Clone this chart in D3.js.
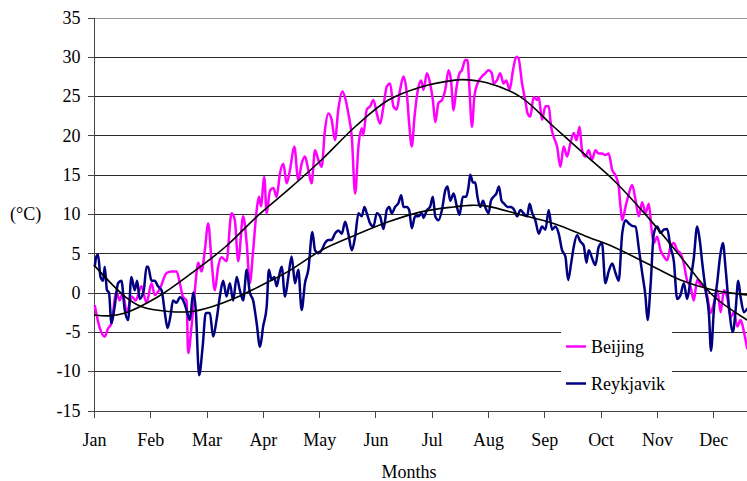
<!DOCTYPE html>
<html>
<head>
<meta charset="utf-8">
<script src="https://cdn.jsdelivr.net/npm/d3@7"></script>
<style>
  html, body { margin: 0; padding: 0; background: #fff; }
  svg { display: block; }
  svg text { font-family: 'Liberation Serif', 'Times New Roman', serif !important; font-size: 18px; fill: #000; }
</style>
</head>
<body>
<svg id="chart" width="747" height="481"></svg>
<script>
// ---- data ----
const months = ["Jan","Feb","Mar","Apr","May","Jun","Jul","Aug","Sep","Oct","Nov","Dec"];
const yTicks = [-15,-10,-5,0,5,10,15,20,25,30,35];
const seriesNames = ["Beijing", "Reykjavik"];

// [day of year, temperature °C]
const beijing = [
[0.4,-1.6],[3.1,-4.5],[5.8,-5.6],[7.5,-4.6],[9.4,-3.9],[12.1,0],[13.9,-1],[15.5,0],[17.7,-2.5],[20.4,-0.5],
[22.5,-1],[25.6,0.8],[28.4,-1.3],[31.1,1.2],[32.8,-0.3],[35.6,0.5],[39.2,2.5],[41.9,2.7],[44.6,2.7],[46.4,1.2],
[48,-0.5],[50,-1],[50.9,-7.7],[52.7,-4.3],[54.5,0.3],[56.3,3.8],[58.1,2.7],[59.9,5.4],[61.7,8.8],[63.5,4.1],
[65.3,0.3],[67.1,3.3],[68.9,4.5],[71.6,4],[74.3,10.1],[76.1,9.2],[77.9,4],[80.6,9.7],[82.5,6.3],[84.2,1.2],
[86,5.4],[87.9,10.5],[89.1,12.2],[90.2,11],[92,14.7],[93.3,10.1],[95.1,13],[96.9,13.3],[98.7,12.2],[100.5,15.2],
[102.3,16.4],[104.1,13.9],[105.9,15.6],[108.2,18.6],[110.4,14.3],[112.2,16.4],[114,17.3],[115.8,15.6],[117.6,13.9],[119.4,18.1],
[121.2,16.9],[123,16],[124.8,20.7],[126.6,22.8],[128.4,22],[130.2,19.4],[132,23.3],[134.2,25.6],[136,24.5],[137.4,22.8],
[139.3,19.8],[141.1,12.6],[142.9,18.6],[144.7,20.9],[145.4,20],[147.4,23.3],[149.2,23.7],[151,24.5],[152.8,22.8],[154.6,21.5],
[156.4,23.7],[158.2,26.2],[160,26.6],[161.8,23.7],[163.6,23.3],[165.4,25.8],[167.2,27.5],[169,25.4],[170.3,21.5],[171.7,18.6],
[173.2,22.4],[175,25.8],[176.8,27],[178,25.8],[179.9,27.9],[181.6,26.6],[183.1,24.5],[184.4,21.7],[186.1,24.1],[188,24.5],
[189.8,25.8],[191.6,28.3],[192.9,27],[194.3,23.2],[195.7,25.8],[197.5,27.9],[198.8,28.3],[200.6,29.6],[201.8,29.6],[202.9,25.8],
[204.2,21.1],[205.5,24.9],[207.2,26.6],[209.6,27.5],[211.4,27.9],[213.2,28.3],[215,27.9],[215.9,26.6],[217.7,27],[219.5,27.9],
[221.3,26.6],[222.8,27],[224.6,25.8],[226.4,28.3],[228.2,30],[229.4,29.8],[231.3,26.6],[233,24.5],[234.3,22.8],[235.8,22.4],
[237.5,24.9],[239.4,24.5],[240.3,24.9],[242.1,22],[243.9,23.7],[245.7,23.7],[247,21.1],[248.4,19.8],[250.2,18.6],[252,16],
[253.8,18.6],[255.6,17.3],[257.4,19],[259.2,20.3],[260.7,19.4],[262.4,21.1],[263.7,18.1],[265.5,17.3],[267.3,18.1],[269.1,16.9],
[270.9,18.1],[272.7,17.7],[274.5,17.7],[276.3,17.5],[278.1,17.7],[280,15.6],[281.8,14.9],[283.5,13.5],[284.5,10.9],[285.4,9.2],
[287.2,10.9],[289,12.6],[290.8,13.7],[292.6,11.8],[294.4,9.7],[296.2,11.5],[298,10.1],[299.8,11.3],[301.1,8.4],[302.5,6.3],
[304.3,7.1],[306.1,5.4],[307.9,4.6],[309.7,4.1],[311.5,5.8],[313.3,6.3],[315.1,5.4],[316.9,5],[318.7,3.7],[320.5,1.5],
[322.3,0.8],[324.1,-1],[325.9,1.6],[327.7,1],[329.5,0.8],[331.4,-0.5],[333.2,-2.6],[335,-1.3],[336.8,0.3],[338.6,-2.5],
[340.4,0.3],[342.2,-0.7],[344,-3.1],[345.8,-2.5],[347.6,-4.3],[349.4,-3.5],[351.2,-5],[353,-7.2]
];

const reykjavik = [
[0.4,3.3],[1.3,4.6],[2.2,4.8],[3.5,2],[4.9,1.5],[5.8,3.3],[7,0.3],[8.1,0],[9.4,-3.9],[11.2,-1.7],
[13,1.2],[14.8,1.5],[16.6,-2.2],[18.4,-3.5],[20.2,2],[22,0.3],[23.3,1.5],[24.7,-0.8],[26.9,0.3],[28.4,3.3],
[29.2,3.3],[31.1,1.5],[32.8,1.5],[34.6,0.8],[36.5,0.3],[38.3,-2.6],[39.7,-4.5],[41.3,-3],[42.7,-1],[44.6,-1.3],
[46.4,-0.6],[48.2,-1],[50,-2.2],[51.8,-3.5],[53.6,0],[55,-2.2],[56.8,-10.5],[58.7,-6.9],[60.4,-2.6],[62.6,-2.6],
[64.4,-5.6],[66.2,-3.5],[68,-0.5],[69.8,1.5],[71.6,-0.5],[73.4,1.2],[75.2,-1],[77.1,2],[78.8,0.3],[80.6,-1],
[82.5,2.9],[84.2,0],[86,-1],[87.9,-3.9],[89.7,-6.9],[91.4,-4.3],[93.3,-1.8],[94.5,2.9],[96,1.6],[97.4,2],
[98.7,0.8],[99.9,2],[101.4,3.3],[103.2,-0.5],[105,2],[106.8,4.6],[108.6,1.2],[110.4,2.9],[112.2,-2.2],[114,1.2],
[115.8,2.9],[118,7.7],[119.4,5.4],[121.2,5],[123,5.4],[124.8,6.3],[126.6,6.7],[128.4,6.7],[130.2,7.5],[132,7.9],
[133.9,7.5],[135.7,9],[137.4,7.5],[139.3,5.4],[141.1,7.1],[142.9,10.1],[144.7,9.7],[146.1,10.9],[147.4,10.1],[149.2,8.8],
[151,8.4],[152.8,10.1],[154.6,9.7],[156.4,8.1],[158.2,10.5],[159.5,10.9],[160.9,10.1],[162.7,10.9],[164.5,11.4],[166,12.4],
[167.2,10.9],[169,10.9],[170.3,10.5],[171.7,8.2],[173.5,9.7],[175.3,9.7],[177.2,10.1],[178,9.5],[179.9,10.5],[181.6,10.9],
[183.1,12.2],[184.4,9.7],[186.1,9.2],[188,10.5],[189.8,13],[191,13.5],[192.5,11.7],[194.3,12.6],[196.1,10.9],[197.5,9.9],
[199.3,12.2],[201.1,12.2],[202.4,13.5],[203.3,15],[204.8,14],[206,14],[207.2,12.2],[208.7,10.9],[210.2,11.7],[211.4,10.9],
[213.2,10.1],[214.5,11.7],[215.9,12.2],[217.4,12.6],[218.8,13.5],[220.2,11.7],[221.7,11.3],[223.5,10.9],[225.3,10.9],[227.1,10.5],
[228.6,9.7],[230.4,10.5],[232.1,10.1],[234,9.7],[235.4,11.3],[236.8,10.1],[238.5,9.2],[240.3,7.5],[242.1,8.4],[243.9,8],
[245.7,10.5],[247.5,8],[249.3,8.4],[251.1,7.5],[252.9,5.4],[254.7,4.6],[256.2,1.6],[257.8,3.7],[259.2,5.8],[261,7.3],
[262.8,6.5],[264.6,6],[266.1,3.8],[267.3,5.4],[269.1,4.4],[270.9,3.5],[272.7,5.8],[274.5,6.3],[276.3,1.2],[278.1,2.7],
[280,3.7],[281.8,2.5],[283.5,1.5],[285.4,7.5],[287.2,9.2],[289,8.8],[290.8,8.5],[292.6,8.4],[294.4,5.6],[296.2,2.5],
[298,-0.5],[299.1,-3.5],[300.7,0.8],[302.5,7.5],[304.3,8.4],[306.1,7.6],[307.9,8],[309.7,8.1],[311.5,5.8],[313.3,4],
[315.1,-0.8],[316.9,-0.3],[318.7,1.2],[320.5,-0.8],[322.3,1.6],[324.1,4.4],[325.9,8.4],[327.4,6.5],[328.7,3.7],[330.5,0.3],
[332.3,-2.8],[333.4,-7.4],[335,-2],[336.8,1.4],[338.3,4.6],[339.8,6.3],[341.3,3],[343.1,-1.8],[345.2,-5],[346.7,-2.2],
[348.1,1.5],[349.4,-0.6],[351.2,-2.5],[353,-2]
];

// trend lines
const beijingTrend = [
[0,-2.85],[8.5,-2.95],[16.8,-2.6],[34.8,-0.5],[52.9,2.5],[70.9,5.8],[89,9.9],[105,13.1],[123,16.9],[141.1,21.1],
[159.1,24.5],[177.2,26.2],[194.1,27],[198.8,27.1],[212.3,26.7],[230.4,24.9],[248.4,21.1],[266.5,17.3],[280.8,14.3],[298.9,9.7],
[316.9,4.6],[335,-0.5],[353,-3.5],[365,-5.2]
];
const reykjavikTrend = [
[0,3.5],[16.8,-0.5],[25.8,-1.8],[40.3,-2.4],[52.9,-2.4],[63.7,-1.8],[76.3,-0.7],[89,0.75],[105,2.7],[123,5.4],
[141.1,7.3],[159.1,9.0],[177.2,10.3],[194.3,10.9],[203.3,11.1],[212.3,11.0],[230.4,9.9],[248.4,8.8],[266.5,7.1],[280.8,5.8],
[298.9,3.7],[316.9,1.6],[335,0.3],[353,-0.3],[365,-0.6]
];

// ---- drawing ----
const FONT = "'Liberation Serif', 'Times New Roman', serif";
const svg = d3.select("#chart");
const x = d3.scaleLinear().domain([0, 365]).range([94, 769.5]);
const y = d3.scaleLinear().domain([-15, 35]).range([410.5, 17.5]);
const colors = { Beijing: "#ff00ff", Reykjavik: "#000080" };

// gridlines
svg.append("g").selectAll("line").data(yTicks.filter(v => v > -15)).join("line")
  .attr("x1", x(0)).attr("x2", 747)
  .attr("y1", d => Math.round(y(d)) + 0.5).attr("y2", d => Math.round(y(d)) + 0.5)
  .attr("stroke", d => d === 35 ? "#999" : "#2a2a2a").attr("stroke-width", 1)
  .attr("shape-rendering", "crispEdges");

// y axis
const yAxis = d3.axisLeft(y).tickValues(yTicks).tickSize(6).tickPadding(7).tickFormat(d => String(d));
const gy = svg.append("g").attr("transform", `translate(${Math.round(x(0)) - 0.5},0)`).call(yAxis)
  .attr("font-family", FONT).attr("font-size", 18);
gy.select(".domain").attr("stroke", "#444").attr("shape-rendering", "crispEdges");
gy.selectAll(".tick line").attr("stroke", "#444").attr("shape-rendering", "crispEdges");
gy.selectAll(".tick text").attr("fill", "#000");

// x axis
const monthTicks = months.map((m, i) => i * 365 / 12);
const xAxis = d3.axisBottom(x).tickValues(monthTicks).tickSize(6).tickSizeOuter(0).tickPadding(16)
  .tickFormat((d, i) => months[i]);
const gx = svg.append("g").attr("transform", `translate(0,${Math.round(y(-15)) + 0.5})`).call(xAxis)
  .attr("font-family", FONT).attr("font-size", 18);
gx.select(".domain").attr("stroke", "#444").attr("d", `M${x(0)},0H747`).attr("shape-rendering", "crispEdges");
gx.selectAll(".tick line").attr("stroke", "#444").attr("shape-rendering", "crispEdges");
gx.selectAll(".tick text").attr("fill", "#000");

// series
const line = d3.line().x(d => x(d[0])).y(d => y(d[1])).curve(d3.curveMonotoneX);
svg.append("path").datum(beijing).attr("d", line)
  .attr("fill", "none").attr("stroke", colors.Beijing).attr("stroke-width", 2.5).attr("stroke-linejoin", "round");
svg.append("path").datum(reykjavik).attr("d", line)
  .attr("fill", "none").attr("stroke", colors.Reykjavik).attr("stroke-width", 2.5).attr("stroke-linejoin", "round");

// trends
const smooth = d3.line().x(d => x(d[0])).y(d => y(d[1])).curve(d3.curveCatmullRom.alpha(0.5));
[beijingTrend, reykjavikTrend].forEach(t => {
  svg.append("path").datum(t).attr("d", smooth)
    .attr("fill", "none").attr("stroke", "#000").attr("stroke-width", 1.6);
});

// axis titles
svg.append("text").attr("x", 10).attr("y", y(10)).attr("dominant-baseline", "central").text("(°C)");
svg.append("text").attr("x", 409).attr("y", 478).attr("text-anchor", "middle").text("Months");

// legend
const lg = svg.append("g");
lg.append("rect").attr("x", 561).attr("y", 326).attr("width", 111).attr("height", 72).attr("fill", "#fff");
seriesNames.forEach((name, i) => {
  const ly = 346.5 + i * 37;
  lg.append("line").attr("x1", 566).attr("x2", 586).attr("y1", ly).attr("y2", ly)
    .attr("stroke", colors[name]).attr("stroke-width", 2.5);
  lg.append("text").attr("x", 591).attr("y", ly).attr("dominant-baseline", "central").text(name);
});
</script>
</body>
</html>
